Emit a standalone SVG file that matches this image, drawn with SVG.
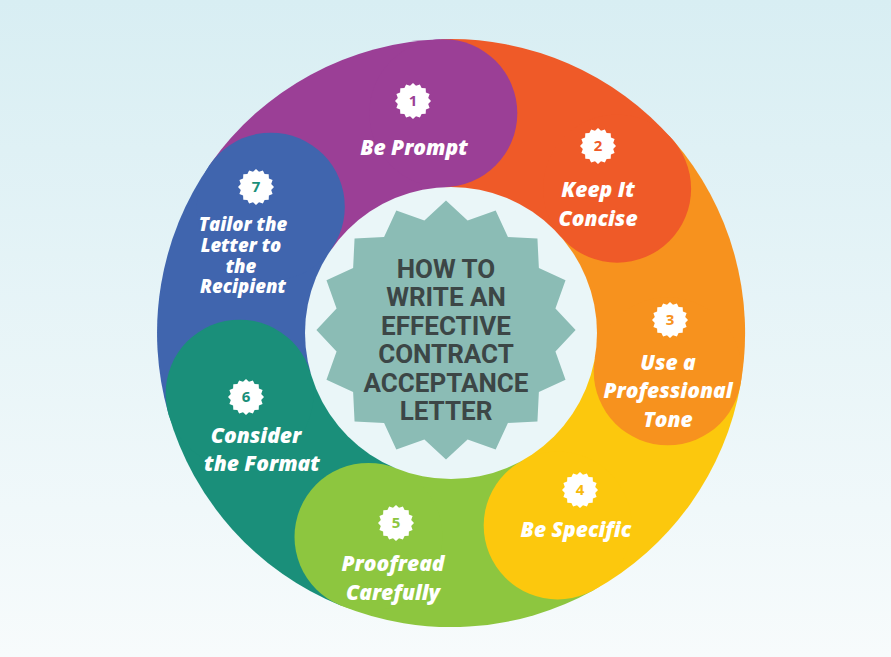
<svg xmlns="http://www.w3.org/2000/svg" width="891" height="657" viewBox="0 0 891 657">
<defs>
<linearGradient id="bg" x1="0" y1="0" x2="0" y2="1"><stop offset="0" stop-color="#d8eef3"/><stop offset="1" stop-color="#f7fbfc"/></linearGradient>
<polygon id="star" points="18,0 15.2,3 16.6,6.9 12.9,8.6 12.7,12.7 8.6,12.9 6.9,16.6 3,15.2 0,18 -3,15.2 -6.9,16.6 -8.6,12.9 -12.7,12.7 -12.9,8.6 -16.6,6.9 -15.2,3 -18,0 -15.2,-3 -16.6,-6.9 -12.9,-8.6 -12.7,-12.7 -8.6,-12.9 -6.9,-16.6 -3,-15.2 0,-18 3,-15.2 6.9,-16.6 8.6,-12.9 12.7,-12.7 12.9,-8.6 16.6,-6.9 15.2,-3"/>
</defs>
<style>
.lbl{font-family:"Open Sans","DejaVu Sans",sans-serif;font-weight:800;font-style:italic;font-size:21px;fill:#fff;text-anchor:middle}
.sm{font-size:18.5px}
.num{font-family:"Open Sans","DejaVu Sans",sans-serif;font-weight:bold;font-size:15px;text-anchor:middle}
.title{font-family:Roboto,"Liberation Sans",sans-serif;font-weight:bold;font-size:26px;fill:#3c4646;text-anchor:middle}
</style>
<rect width="891" height="657" fill="url(#bg)"/>
<g id="ring">
<path d="M451,333 L210.2,164.2 A294,294 0 0 1 440.7,39.3 Z" fill="#9b3f96"/>
<path d="M451,333 L440.7,39.3 A294,294 0 0 1 673,140.1 Z" fill="#ef5a28"/>
<path d="M451,333 L673,140.1 A294,294 0 0 1 740.6,384.2 Z" fill="#f7921e"/>
<path d="M451,333 L740.6,384.2 A294,294 0 0 1 593.6,590.3 Z" fill="#fcc80d"/>
<path d="M451,333 L593.6,590.3 A294,294 0 0 1 340.7,605.5 Z" fill="#8dc63f"/>
<path d="M451,333 L340.7,605.5 A294,294 0 0 1 168.5,414.1 Z" fill="#1a8f7a"/>
<path d="M451,333 L168.5,414.1 A294,294 0 0 1 210.2,164.2 Z" fill="#4065ae"/>
<circle cx="443.3" cy="113.2" r="74" fill="#9b3f96"/>
<circle cx="617.1" cy="188.7" r="74" fill="#ef5a28"/>
<circle cx="667.7" cy="371.3" r="74" fill="#f7921e"/>
<circle cx="557.7" cy="525.5" r="74" fill="#fcc80d"/>
<circle cx="368.5" cy="536.9" r="74" fill="#8dc63f"/>
<circle cx="239.6" cy="393.7" r="74" fill="#1a8f7a"/>
<circle cx="270.8" cy="206.7" r="74" fill="#4065ae"/>
<circle cx="451" cy="333" r="146" fill="#eaf6f8"/>
</g>
<g id="center">
<use href="#star" transform="translate(446,330) scale(7.2)" fill="#8bbcb5"/>
<text class="title" x="446" y="278">HOW TO</text>
<text class="title" x="446" y="306">WRITE AN</text>
<text class="title" x="446" y="335">EFFECTIVE</text>
<text class="title" x="446" y="363">CONTRACT</text>
<text class="title" x="446" y="392">ACCEPTANCE</text>
<text class="title" x="446" y="420">LETTER</text>
</g>
<g id="step1"><use href="#star" x="413" y="101" fill="#fff"/><text class="num" x="413" y="106" fill="#9b3f96">1</text><text class="lbl" x="414" y="155">Be Prompt</text></g>
<g id="step2"><use href="#star" x="598" y="146" fill="#fff"/><text class="num" x="598" y="151" fill="#ef5a28">2</text><text class="lbl" x="598" y="197">Keep It</text><text class="lbl" x="598" y="226">Concise</text></g>
<g id="step3"><use href="#star" x="670" y="320" fill="#fff"/><text class="num" x="670" y="325" fill="#f7921e">3</text><text class="lbl" x="668" y="370">Use a</text><text class="lbl" x="668" y="398">Professional</text><text class="lbl" x="668" y="427">Tone</text></g>
<g id="step4"><use href="#star" x="580" y="490" fill="#fff"/><text class="num" x="580" y="495" fill="#f7b90d">4</text><text class="lbl" x="576" y="537">Be Specific</text></g>
<g id="step5"><use href="#star" x="396" y="523" fill="#fff"/><text class="num" x="396" y="528" fill="#8dc63f">5</text><text class="lbl" x="393" y="571">Proofread</text><text class="lbl" x="393" y="600">Carefully</text></g>
<g id="step6"><use href="#star" x="246" y="397" fill="#fff"/><text class="num" x="246" y="402" fill="#1a8f7a">6</text><text class="lbl" x="256" y="443">Consider</text><text class="lbl" x="262" y="471">the Format</text></g>
<g id="step7"><use href="#star" x="256" y="187" fill="#fff"/><text class="num" x="256" y="192" fill="#1a8f7a">7</text><text class="lbl sm" x="243" y="231">Tailor the</text><text class="lbl sm" x="241" y="252">Letter to</text><text class="lbl sm" x="241" y="273">the</text><text class="lbl sm" x="243" y="293">Recipient</text></g>
</svg>
